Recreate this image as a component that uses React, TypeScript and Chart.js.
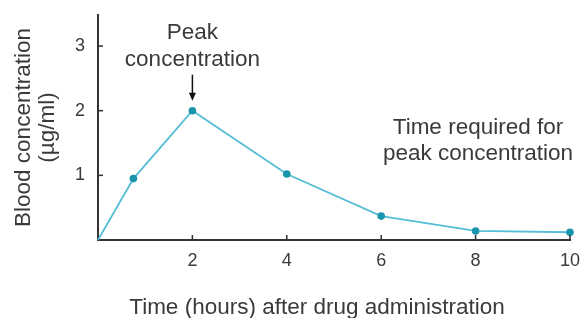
import React, { useEffect, useRef } from "react";
import { Chart, registerables } from "chart.js";

Chart.register(...registerables);

const hours: number[] = [0, 0.75, 2, 4, 6, 8, 10];
const concentration: number[] = [0, 0.95, 2.0, 1.02, 0.37, 0.14, 0.12];
const xTicks: number[] = [2, 4, 6, 8, 10];
const yTicks: number[] = [1, 2, 3];
const xTitle = "Time (hours) after drug administration";
const yTitle: string[] = ["Blood concentration", "(µg/ml)"];
const peakLabel: string[] = ["Peak", "concentration"];
const timeLabel: string[] = ["Time required for", "peak concentration"];

const FONT = "'Liberation Sans', Arial, Helvetica, sans-serif";
const TEXT = "#3a3a3a";
const AXIS = "#333333";

const decorPlugin = {
  id: "decor",
  afterDraw(chart: any) {
    const { ctx, chartArea } = chart;
    const xs = chart.scales.x;
    const ys = chart.scales.y;
    ctx.save();
    // inner tick marks
    ctx.strokeStyle = AXIS;
    ctx.lineWidth = 1.5;
    xTicks.forEach((v) => {
      const px = xs.getPixelForValue(v);
      ctx.beginPath();
      ctx.moveTo(px, chartArea.bottom);
      ctx.lineTo(px, chartArea.bottom - 5);
      ctx.stroke();
    });
    yTicks.forEach((v) => {
      const py = ys.getPixelForValue(v);
      ctx.beginPath();
      ctx.moveTo(chartArea.left, py);
      ctx.lineTo(chartArea.left + 5, py);
      ctx.stroke();
    });

    ctx.fillStyle = TEXT;
    ctx.font = `22.5px ${FONT}`;
    ctx.textAlign = "center";
    ctx.textBaseline = "middle";

    // Peak annotation
    const px = xs.getPixelForValue(2);
    const py = ys.getPixelForValue(2);
    ctx.fillText(peakLabel[0], px, py - 78);
    ctx.fillText(peakLabel[1], px, py - 51);
    // arrow
    ctx.strokeStyle = "#111";
    ctx.fillStyle = "#111";
    ctx.lineWidth = 1.5;
    ctx.beginPath();
    ctx.moveTo(px, py - 36);
    ctx.lineTo(px, py - 16);
    ctx.stroke();
    ctx.beginPath();
    ctx.moveTo(px - 3.5, py - 18);
    ctx.lineTo(px + 3.5, py - 18);
    ctx.lineTo(px, py - 10);
    ctx.closePath();
    ctx.fill();

    // Time required annotation
    ctx.fillStyle = TEXT;
    const tx = xs.getPixelForValue(8.05);
    ctx.fillText(timeLabel[0], tx, ys.getPixelForValue(1.74));
    ctx.fillText(timeLabel[1], tx, ys.getPixelForValue(1.34));

    // x axis title
    ctx.font = `22.5px ${FONT}`;
    ctx.fillText(xTitle, (chartArea.left + chartArea.right) / 2 - 17, 308);
    ctx.restore();
  },
};

export default function App() {
  const ref = useRef<HTMLCanvasElement>(null);
  useEffect(() => {
    if (!ref.current) return;
    const chart = new Chart(ref.current, {
      type: "line",
      data: {
        datasets: [
          {
            data: hours.map((h, i) => ({ x: h, y: concentration[i] })),
            borderColor: "#55bdd5",
            borderWidth: 1.8,
            pointRadius: concentration.map((_, i) => (i === 0 ? 0 : 3.8)),
            pointBackgroundColor: "#1a93ad",
            pointBorderColor: "#1a93ad",
            pointBorderWidth: 0,
            tension: 0,
            clip: false as any,
          },
        ],
      },
      options: {
        responsive: false,
        animation: false,
        events: [],
        layout: { padding: { left: 0, right: 11, top: 15, bottom: 0 } },
        plugins: { legend: { display: false }, tooltip: { enabled: false }, title: { display: false } },
        scales: {
          x: {
            type: "linear",
            min: 0,
            max: 10,
            afterFit: (s: any) => {
              s.height = 78;
              s.paddingLeft = 0;
              s.paddingRight = 0;
            },
            afterBuildTicks: (s: any) => {
              s.ticks = xTicks.map((v) => ({ value: v }));
            },
            grid: { display: true, drawOnChartArea: false, drawTicks: false },
            border: { display: true, color: AXIS, width: 2 },
            ticks: {
              padding: 10,
              color: TEXT,
              font: { family: FONT, size: 18 },
              maxRotation: 0,
            },
          },
          y: {
            type: "linear",
            min: 0,
            max: 3.48,
            afterFit: (s: any) => {
              s.width = 98;
              s.paddingTop = 0;
              s.paddingBottom = 0;
            },
            afterBuildTicks: (s: any) => {
              s.ticks = yTicks.map((v) => ({ value: v }));
            },
            grid: { display: true, drawOnChartArea: false, drawTicks: false },
            border: { display: true, color: AXIS, width: 2 },
            ticks: {
              padding: 13,
              color: TEXT,
              font: { family: FONT, size: 18 },
            },
            title: {
              display: true,
              text: yTitle,
              color: TEXT,
              font: { family: FONT, size: 22.5, lineHeight: 1.1 },
              padding: { top: 11, bottom: 0 },
            },
          },
        },
      },
      plugins: [decorPlugin],
    });
    return () => chart.destroy();
  }, []);
  return (
    <div style={{ position: "absolute", left: 0, top: 0, width: 581, height: 318, background: "#fff" }}>
      <canvas ref={ref} width={581} height={318} />
    </div>
  );
}
